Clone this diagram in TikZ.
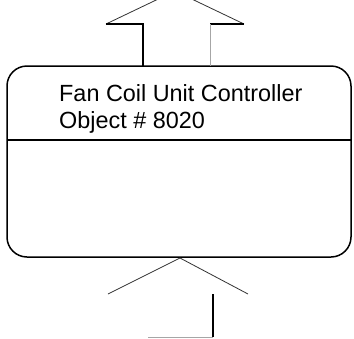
\documentclass[tikz,border=0pt]{standalone}
\usepackage{fontspec}
\setmainfont{Liberation Sans}
\begin{document}
\begin{tikzpicture}[x=1pt,y=-1pt,
  edge/.style={line width=1.2pt,black},
  faint/.style={line width=0.9pt,black!35},
  thin/.style={line width=0.8pt,black!80},
  label/.style={anchor=base west,inner sep=0pt,font=\fontsize{23.4}{27}\selectfont}]
\useasboundingbox (0,0) rectangle (354,338);
\clip (0,0) rectangle (354,338);
% controller object box
\node[draw,line width=1.5pt,rounded corners=20pt,minimum width=344pt,minimum height=191pt,
      inner sep=0pt,outer sep=0pt] (fcu) at (179,161.5) {};
\coordinate (divL) at (7,140);
\coordinate (divR) at (351,140);
\draw[line width=1.2pt] (divL) -- (divR);
\node[label] (title) at (59,101) {Fan Coil Unit Controller};
\node[label] (objno) at (59,128) {Object \# 8020};
% outgoing arrow above the box
\coordinate (upTip) at (175,-9);
\coordinate (upL) at (106,24);
\coordinate (upR) at (244,24);
\coordinate (upSL) at (143,24);
\coordinate (upSR) at (210,24);
\coordinate (upBL) at (143,66);
\coordinate (upBR) at (210,66);
\draw[thin] (upL) -- (upTip) -- (upR);
\draw[edge] (upL) -- (upSL) -- (upBL);
\draw[edge] (upSR) -- (upR);
\draw[faint] (upSR) -- (upBR);
% incoming arrow below the box
\coordinate (dnTip) at (180,258);
\coordinate (dnL) at (108,294);
\coordinate (dnR) at (248,294);
\coordinate (dnS) at (213,294);
\coordinate (dnB) at (213,337);
\coordinate (dnE) at (148,337);
\draw[thin] (dnL) -- (dnTip) -- (dnR);
\draw[edge] (dnS) -- (dnB);
\draw[faint] (dnB) -- (dnE);
\end{tikzpicture}
\end{document}
